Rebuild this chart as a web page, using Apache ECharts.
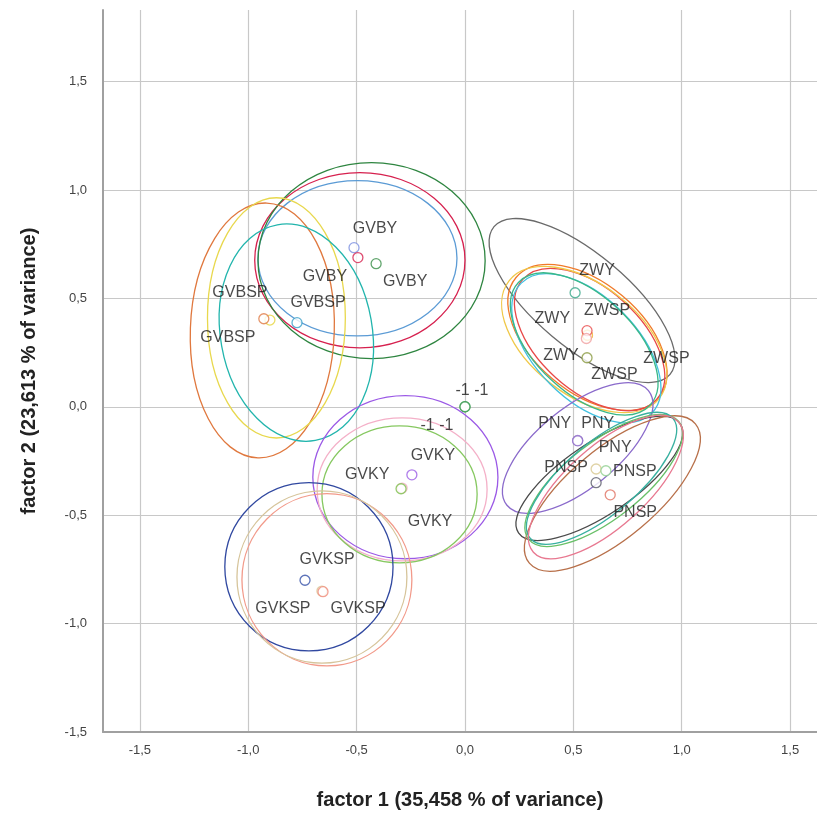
<!DOCTYPE html>
<html><head><meta charset="utf-8">
<script src="https://cdn.jsdelivr.net/npm/echarts@6/dist/echarts.min.js"></script>
<style>html,body{margin:0;padding:0;background:#fff}#c{width:817px;height:817px}</style>
</head><body><div id="c"></div>
<script>
// ---- tick labels ----
const xTicks = [-1.5, -1.0, -0.5, 0.0, 0.5, 1.0, 1.5];
const yTicks = [-1.5, -1.0, -0.5, 0.0, 0.5, 1.0, 1.5];

// ---- centroid points ----
const pointLabels = ['GVBSP','GVBY','GVBY','GVBY','GVBSP','GVBSP',
  'GVKY','GVKY','GVKY','GVKSP','GVKSP','GVKSP','-1 -1','-1 -1',
  'ZWSP','ZWSP','ZWY','ZWSP','ZWY','ZWY',
  'PNY','PNY','PNY','PNSP','PNSP','PNSP'];
const pointX = [-0.90,-0.512,-0.494,-0.410,-0.928,-0.775,
  -0.290,-0.245,-0.295,-0.660,-0.738,-0.655,0.000,0.000,
  0.565,0.565,0.508,0.563,0.560,0.563,
  0.520,0.520,0.605,0.605,0.650,0.670];
const pointY = [0.400,0.734,0.688,0.660,0.406,0.388,
  -0.375,-0.314,-0.378,-0.850,-0.800,-0.853,0.000,0.000,
  0.330,0.330,0.526,0.351,0.315,0.226,
  -0.155,-0.157,-0.350,-0.287,-0.295,-0.406];

// ---- confidence ellipses: centre, semi-axes, rotation (deg) ----
const ellipseX = [-0.496,-0.485,-0.431,-0.935,-0.870,-0.778,
  -0.275,-0.290,-0.302,-0.720,-0.637,-0.660,
  0.540,0.565,0.575,0.550,0.560,0.550,
  0.520,0.620,0.680,0.640,0.630,0.650];
const ellipseY = [0.685,0.676,0.674,0.352,0.410,0.342,
  -0.325,-0.381,-0.404,-0.738,-0.798,-0.785,
  0.490,0.320,0.310,0.310,0.270,0.290,
  -0.190,-0.330,-0.400,-0.340,-0.330,-0.370];
const ellipseA = [0.459,0.485,0.524,0.332,0.318,0.350,
  0.427,0.392,0.358,0.388,0.392,0.392,
  0.530,0.430,0.415,0.440,0.425,0.415,
  0.420,0.450,0.500,0.440,0.430,0.450];
const ellipseB = [0.358,0.404,0.452,0.588,0.554,0.505,
  0.376,0.330,0.316,0.388,0.397,0.397,
  0.215,0.250,0.235,0.255,0.235,0.225,
  0.185,0.165,0.205,0.175,0.165,0.185];
const ellipseAngle = [0,0,0,-2,0,10,
  0,0,0,0,0,0,
  -40,-40,-42,-38,-45,-43,
  39,34,40,38,40,42];

// ---- styles (kept apart from data) ----
const pointColors = ['#e6d640','#7b8fe0','#d6204e','#3a8f48','#e07a45','#3a9fc8',
  '#f2a7c3','#9b5de5','#7cbf4a','#d9c493','#3550a8','#f08a7a','#3a9a50','#3a9a50',
  '#f07a2a','#f0c848','#3aa88a','#e84a4a','#f0a0a0','#8a9a40',
  '#8e6cc8','#8e6cc8','#5a5a6a','#d8c890','#90d090','#e07060'];
const labelOffsets = [[-30,-27],[21,-19],[-33,19],[29,18],[-36,19],[21,-20],
  [-35,-13],[21,-19],[29,33],[-39,18],[22,-21],[35,17],[7,-16],[-28,19],
  [79,23],[27,39],[22,-22],[20,-20],[-34,-20],[-26,-2],
  [20,-17],[-23,-17],[19,-35],[-30,-1],[29,1],[25,18]];
const ellipseColors = ['#5b9bd5','#d6204e','#2e8540','#e0783e','#e8d84d','#22b5ad',
  '#9b59e6','#f4b0c8','#86c860','#3048a0','#f29a8a','#d6c49a',
  '#6a6a6a','#f07a2a','#e84848','#f0c848','#40c0e0','#3ab888',
  '#8a6acb','#4a4a4a','#b8704a','#68c068','#38b0a0','#e87890'];

const fmt = v => v.toFixed(1).replace('.', ',');
const FONT = '"Liberation Sans", Arial, sans-serif';

const ellipseData = ellipseX.map((x, i) => [x, ellipseY[i], ellipseA[i], ellipseB[i], ellipseAngle[i]]);
const pointData = pointX.map((x, i) => ({
  value: [x, pointY[i]],
  name: pointLabels[i],
  itemStyle: { color: '#fff', borderColor: pointColors[i], borderWidth: 1.3 },
  label: { offset: labelOffsets[i] }
}));

const chart = echarts.init(document.getElementById('c'), null, { renderer: 'canvas' });
chart.setOption({
  animation: false,
  backgroundColor: '#fff',
  grid: { left: 103, right: 0, top: 10, bottom: 85 },
  xAxis: {
    type: 'value', min: -1.67, max: 1.624,
    name: 'factor 1 (35,458 % of variance)', nameLocation: 'middle', nameGap: 58,
    nameTextStyle: { fontFamily: FONT, fontSize: 20, fontWeight: 'bold', color: '#222' },
    axisLine: { show: true, onZero: false, lineStyle: { color: '#a0a0a0', width: 2 } },
    axisTick: { show: false, customValues: xTicks },
    axisLabel: { customValues: xTicks, formatter: fmt, margin: 12, fontFamily: FONT, fontSize: 13, color: '#444' },
    splitLine: { show: true, lineStyle: { color: '#c8c8c8', width: 1.2 } }
  },
  yAxis: {
    type: 'value', min: -1.5, max: 1.83,
    name: 'factor 2 (23,613 % of variance)', nameLocation: 'middle', nameGap: 64,
    nameTextStyle: { fontFamily: FONT, fontSize: 20, fontWeight: 'bold', color: '#222' },
    axisLine: { show: true, onZero: false, lineStyle: { color: '#a0a0a0', width: 2 } },
    axisTick: { show: false, customValues: yTicks },
    axisLabel: { customValues: yTicks, formatter: fmt, margin: 16, fontFamily: FONT, fontSize: 13, color: '#444' },
    splitLine: { show: true, lineStyle: { color: '#c8c8c8', width: 1.2 } }
  },
  series: [
    {
      type: 'custom',
      silent: true,
      data: ellipseData,
      renderItem: function (params, api) {
        const c = api.coord([api.value(0), api.value(1)]);
        const sx = api.size([1, 0])[0];
        const sy = api.size([0, 1])[1];
        return {
          type: 'ellipse',
          x: c[0], y: c[1],
          rotation: api.value(4) * Math.PI / 180,
          shape: { cx: 0, cy: 0, rx: api.value(2) * sx, ry: api.value(3) * sy },
          style: { fill: 'none', stroke: ellipseColors[params.dataIndex], lineWidth: 1.3 }
        };
      }
    },
    {
      type: 'scatter',
      symbol: 'circle',
      symbolSize: 10,
      data: pointData,
      label: {
        show: true, position: 'inside',
        formatter: p => p.name,
        fontFamily: FONT, fontSize: 16, color: '#1a1a1a'
      }
    }
  ]
});
</script></body></html>
